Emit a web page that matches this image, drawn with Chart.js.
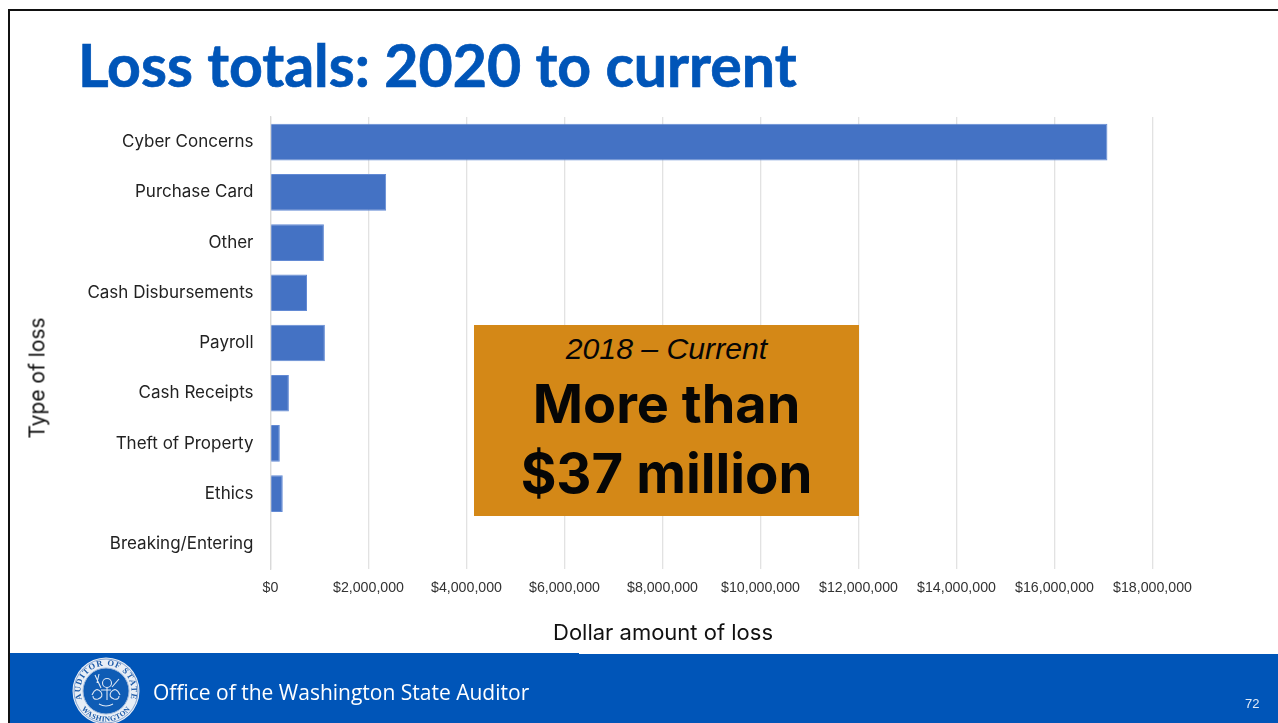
<!DOCTYPE html>
<html>
<head>
<meta charset="utf-8">
<title>Loss totals: 2020 to current</title>
<script src="https://cdn.jsdelivr.net/npm/chart.js@4"></script>
<style>
    html, body { margin: 0; padding: 0; background: #fff; overflow: hidden; }
    #slide { position: relative; width: 1278px; height: 723px; overflow: hidden; background: #fff; }
    #stockChart { position: absolute; left: 0; top: 0; }
    .frameTop { position: absolute; left: 8px; top: 9px; right: 0; height: 2px; background: #111; }
    .frameLeft { position: absolute; left: 8px; top: 9px; bottom: 0; width: 2px; background: #111; }
    h1 { position: absolute; left: 78px; top: 29px; margin: 0; color: #0055b8; white-space: nowrap;
         font: 700 59px Lato, sans-serif; line-height: 72px; -webkit-text-stroke: 0.7px #0055b8; }
    .axisTitle { position: absolute; color: #111; font: 400 20px Inter, sans-serif; white-space: nowrap; }
    #xTitle { left: 553px; top: 619px; font-size: 22px; }
    #yTitle { left: 37px; top: 378px; font-size: 21px; transform: translate(-50%, -50%) rotate(-90deg); }
    #callout { position: absolute; left: 474px; top: 325px; width: 385px; height: 191px; background: #d48817;
               color: #060606; text-align: center; }
    #callout div { position: absolute; left: 0; right: 0; white-space: nowrap; }
    #period { top: 5px; font: italic 400 30.2px "Liberation Sans", sans-serif; line-height: 38px; }
    #line1 { top: 44px; font: 700 54px Inter, sans-serif; line-height: 70px; }
    #line2 { top: 113px; font: 700 54.5px Inter, sans-serif; line-height: 70px; }
    .footer { position: absolute; background: #0055b8; }
    #officeName { position: absolute; left: 153px; top: 677px; color: #fff; font: 400 21px "Open Sans", sans-serif; line-height: 30px; white-space: nowrap; }
    #pageNo { position: absolute; left: 1245px; top: 696px; color: #e4ecf7; font: 400 13px "Liberation Sans", sans-serif; }
    #seal { position: absolute; left: 70px; top: 655px; filter: blur(0.4px); }
</style>
</head>
<body>
<div id="slide">
    <canvas id="stockChart" width="1278" height="723"></canvas>
    <div class="frameTop"></div>
    <div class="frameLeft"></div>
    <h1>Loss totals: 2020 to current</h1>
    <div class="axisTitle" id="xTitle">Dollar amount of loss</div>
    <div class="axisTitle" id="yTitle">Type of loss</div>
    <div id="callout">
        <div id="period">2018 – Current</div>
        <div id="line1">More than</div>
        <div id="line2">$37 million</div>
    </div>
    <div class="footer" style="left:10px;right:0;top:654px;bottom:0"></div>
    <div class="footer" style="left:10px;width:569px;top:653px;height:1px"></div>
    <svg id="seal" width="72" height="72" viewBox="0 0 72 72">
        <defs>
            <path id="sealTop" d="M 13.9 48.75 A 25.5 25.5 0 1 1 58.1 48.75"/>
            <path id="sealBottom" d="M 5.5 36 A 30.5 30.5 0 0 0 66.5 36"/>
        </defs>
        <circle cx="36" cy="36" r="33.5" fill="#e8eef6"/>
        <circle cx="36" cy="36" r="32" fill="none" stroke="#6f93c8" stroke-width="0.8"/>
        <circle cx="36" cy="36" r="23" fill="#0f5cb5" stroke="#9db8dc" stroke-width="1"/>
        <text font-family="Liberation Serif, serif" font-weight="700" font-size="8.5" fill="#1c5aa8" letter-spacing="0.9">
            <textPath href="#sealTop" startOffset="50%" text-anchor="middle">AUDITOR OF STATE</textPath>
        </text>
        <text font-family="Liberation Serif, serif" font-weight="700" font-size="7.5" fill="#1c5aa8" letter-spacing="0.5">
            <textPath href="#sealBottom" startOffset="50%" text-anchor="middle">WASHINGTON</textPath>
        </text>
        <g fill="none" stroke="#dfe8f4" stroke-width="1.1">
            <circle cx="37" cy="28" r="4.5"/>
            <path d="M 22 40 q 4 -9 9 -3 q 3 5 -3 7 q -5 1 -5 -3 M 50 40 q -4 -9 -9 -3 q -3 5 3 7 q 5 1 5 -3 M 25 20 l 6 13 M 29 19 l -2 9 M 49 24 l -7 8 M 31 35 l 10 0 M 37 33 l 0 12 M 29 49 q 7 4 14 0"/>
        </g>
    </svg>
    <div id="officeName">Office of the Washington State Auditor</div>
    <div id="pageNo">72</div>
</div>
<script>
const categories = ['Cyber Concerns', 'Purchase Card', 'Other', 'Cash Disbursements', 'Payroll',
    'Cash Receipts', 'Theft of Property', 'Ethics', 'Breaking/Entering'];
const lossAmounts = [17080000, 2360000, 1090000, 745000, 1110000, 375000, 190000, 250000, 0];
const axisMax = 18000000;
const axisStep = 2000000;

// Whole dollars with thousands separators, e.g. $2,000,000
function formatDollars(value) {
    return '$' + Number(value).toLocaleString('en-US');
}

const ctx = document.getElementById('stockChart').getContext('2d');
const mainChart = new Chart(ctx, {
    type: 'bar',
    data: {
        labels: categories,
        datasets: [{
            label: 'Dollar amount of loss',
            data: lossAmounts,
            backgroundColor: '#4472c4',
            borderColor: '#638ad4',
            borderWidth: 1,
            barPercentage: 0.73,
            categoryPercentage: 1
        }]
    },
    options: {
        indexAxis: 'y',
        responsive: false,
        animation: false,
        layout: {
            padding: { left: 20, top: 117, right: 125.5, bottom: 0 }
        },
        plugins: {
            legend: { display: false },
            tooltip: { enabled: false }
        },
        scales: {
            x: {
                min: 0,
                max: axisMax,
                afterFit: function (scale) { scale.height = 154; },
                grid: { color: '#e2e2e2', lineWidth: 1.3, drawTicks: false },
                border: { display: false },
                ticks: {
                    stepSize: axisStep,
                    padding: 11,
                    maxRotation: 0,
                    color: '#333',
                    font: { family: 'Liberation Sans', size: 14.2 },
                    callback: formatDollars
                }
            },
            y: {
                afterFit: function (scale) { scale.width = 250.5; },
                grid: { display: false, drawTicks: false },
                border: { display: true, color: '#d9d9d9', width: 1.3 },
                ticks: {
                    padding: 17,
                    color: '#222',
                    font: { family: 'Inter', size: 17 }
                }
            }
        }
    }
});
</script>
</body>
</html>
